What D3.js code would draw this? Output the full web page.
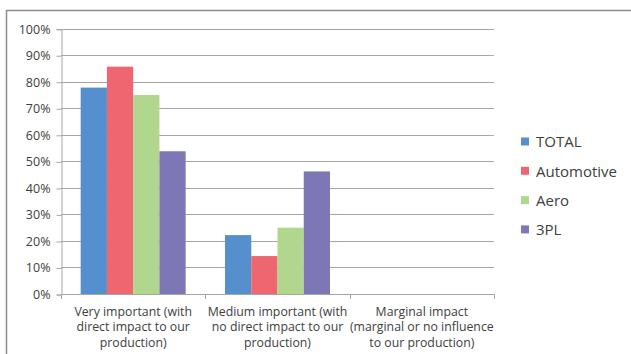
<!DOCTYPE html>
<html>
<head>
<meta charset="utf-8">
<script src="https://cdn.jsdelivr.net/npm/d3@7"></script>
<style>
  html, body { margin: 0; padding: 0; background: #fff; }
  svg { display: block; }
  text { font-family: "Open Sans", "Liberation Sans", sans-serif; fill: #404040; }
</style>
</head>
<body>
<script>
// Share of respondents per importance level, by sector
const categories = [
  ["Very important (with", "direct impact to our", "production)"],
  ["Medium important (with", "no direct impact to our", "production)"],
  ["Marginal impact", "(marginal or no influence", "to our production)"]
];
const seriesNames = ["TOTAL", "Automotive", "Aero", "3PL"];
const seriesColors = ["#558fce", "#ee6670", "#b1d68d", "#7d77b6"];
const total = [0.778, 0.222, 0];
const automotive = [0.857, 0.143, 0];
const aero = [0.75, 0.25, 0];
const tpl = [0.538, 0.462, 0];
const yTicks = [0, 0.1, 0.2, 0.3, 0.4, 0.5, 0.6, 0.7, 0.8, 0.9, 1.0];

const series = [total, automotive, aero, tpl];

const W = 631, H = 354;
const svg = d3.select("body").append("svg").attr("width", W).attr("height", H);

// outer chart frame (top and left edges visible)
svg.append("path")
  .attr("d", `M6.5,${H} V10.5 H${W}`)
  .attr("fill", "none").attr("stroke", "#8c8c8c").attr("stroke-width", 1.5);

const plot = { left: 61, right: 494, top: 28.7, bottom: 294 };

const x0 = d3.scaleBand()
  .domain(d3.range(categories.length))
  .range([plot.left, plot.right]);

// bars sit in the middle of each category, with 150% gap width
const barW = x0.bandwidth() / (seriesNames.length + 1.5);
const x1 = d3.scaleBand()
  .domain(d3.range(seriesNames.length))
  .range([0, barW * seriesNames.length])
  .padding(0);

const y = d3.scaleLinear().domain([0, 1]).range([plot.bottom, plot.top]);

// horizontal gridlines
svg.append("g").selectAll("line").data(yTicks.slice(1)).join("line")
  .attr("x1", plot.left).attr("x2", plot.right)
  .attr("y1", d => Math.round(y(d)) + 0.5).attr("y2", d => Math.round(y(d)) + 0.5)
  .attr("stroke", "#a6a6a6").attr("stroke-width", 1);

// y axis
const yAxis = d3.axisLeft(y).tickValues(yTicks).tickFormat(d3.format(".0%")).tickSize(5).tickPadding(6);
const yg = svg.append("g").attr("transform", `translate(${plot.left + 0.5},0.5)`).call(yAxis);
yg.select(".domain").attr("stroke", "#a6a6a6");
yg.selectAll(".tick line").attr("stroke", "#a6a6a6");
yg.selectAll(".tick text").style("font-size", "12.5px").attr("fill", "#404040")
  .style("font-family", "'Open Sans', sans-serif");

// bars
const groups = svg.append("g").selectAll("g").data(categories.map((c, i) => i)).join("g")
  .attr("transform", i => `translate(${x0(i) + (x0.bandwidth() - barW * seriesNames.length) / 2},0)`);

groups.selectAll("rect")
  .data(i => series.map((s, k) => ({ k, v: s[i] })))
  .join("rect")
  .attr("x", d => x1(d.k))
  .attr("width", x1.bandwidth())
  .attr("y", d => y(d.v))
  .attr("height", d => plot.bottom - y(d.v))
  .attr("fill", d => seriesColors[d.k]);

// x axis with category boundary ticks
const xg = svg.append("g");
xg.append("line")
  .attr("x1", plot.left).attr("x2", plot.right)
  .attr("y1", plot.bottom + 0.5).attr("y2", plot.bottom + 0.5)
  .attr("stroke", "#a6a6a6");
const bounds = d3.range(categories.length + 1).map(i => i === categories.length ? plot.right : x0(i));
xg.selectAll("line.tk").data(bounds).join("line").attr("class", "tk")
  .attr("x1", d => Math.round(d) + 0.5).attr("x2", d => Math.round(d) + 0.5)
  .attr("y1", plot.bottom).attr("y2", plot.bottom + 5)
  .attr("stroke", "#a6a6a6");

// category labels
xg.selectAll("text.cat").data(categories).join("text").attr("class", "cat")
  .attr("text-anchor", "middle")
  .style("font-size", "12.3px")
  .attr("transform", (d, i) => `translate(${x0(i) + x0.bandwidth() / 2},0)`)
  .selectAll("tspan").data(d => d).join("tspan")
  .attr("x", 0)
  .attr("y", (d, j) => 316 + j * 15.3)
  .text(d => d);

// legend
const lg = svg.append("g").attr("transform", "translate(521,0)");
const li = lg.selectAll("g").data(seriesNames).join("g")
  .attr("transform", (d, i) => `translate(0,${142 + i * 29.3})`);
li.append("rect").attr("x", 0).attr("y", -4.5).attr("width", 8).attr("height", 8)
  .attr("fill", (d, i) => seriesColors[i]);
li.append("text").attr("x", 15).attr("y", 0).attr("dy", "0.36em")
  .style("font-size", "15px").text(d => d);
</script>
</body>
</html>
